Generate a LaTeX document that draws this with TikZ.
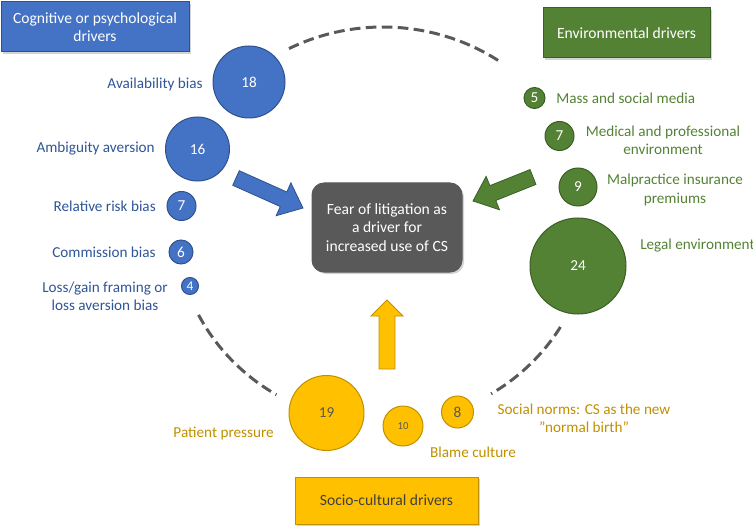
\documentclass[tikz,border=0pt]{standalone}
\usepackage{fontspec}
\setmainfont{Carlito}
\usetikzlibrary{calc,shadows}
\definecolor{cblue}{HTML}{4472C4}
\definecolor{cbluedk}{HTML}{2F528F}
\definecolor{tblue}{HTML}{2F5597}
\definecolor{cgreen}{HTML}{548235}
\definecolor{cgreendk}{HTML}{3B5E25}
\definecolor{tgreen}{HTML}{548235}
\definecolor{cyell}{HTML}{FFC000}
\definecolor{cyelldk}{HTML}{BF9000}
\definecolor{tyell}{HTML}{BF9000}
\definecolor{cgray}{HTML}{595959}
\definecolor{tdark}{HTML}{404040}
\newcommand\blockarr[6]{%
  \coordinate (ba-h) at ($(#3)!#6!(#2)$);
  \draw[#1] ($(#2)!#4!90:(#3)$) -- ($(ba-h)!#4!90:(#3)$) -- ($(ba-h)!#5!90:(#3)$) -- (#3)
    -- ($(ba-h)!#5!-90:(#3)$) -- ($(ba-h)!#4!-90:(#3)$) -- ($(#2)!#4!-90:(#3)$) -- cycle;
}
\tikzset{
  txt/.style={font=\fontsize{11.4}{13.8}\selectfont, inner sep=0pt},
  blab/.style={txt, text=tblue},
  glab/.style={txt, text=tgreen},
  ylab/.style={txt, text=tyell},
  bcirc/.style={circle, fill=cblue, draw=cbluedk, line width=0.75pt, text=white, inner sep=0pt, txt},
  gcirc/.style={circle, fill=cgreen, draw=cgreendk, line width=0.75pt, text=white, inner sep=0pt, txt},
  ycirc/.style={circle, fill=cyell, draw=cyelldk, line width=0.75pt, text=cgray, inner sep=0pt, txt},
  hbox/.style={rectangle, line width=0.75pt, align=center, txt, font=\fontsize{11.7}{14}\selectfont,
     drop shadow={shadow xshift=1.5pt, shadow yshift=-1.5pt, opacity=0.35}},
  dasharc/.style={draw=cgray, line width=2.25pt, dash pattern=on 8pt off 4pt},
  barrow/.style={fill=cblue, draw=cbluedk, line width=0.6pt},
  garrow/.style={fill=cgreen, draw=cgreendk, line width=0.6pt},
  yarrow/.style={fill=cyell, draw=cyelldk, line width=0.6pt},
}
\begin{document}
\begin{tikzpicture}[x=0.75pt,y=-0.75pt]
\useasboundingbox (0,0) rectangle (753,531);
% dashed ellipse arcs
\coordinate (ec) at (383,225);
\draw[dasharc] ($(ec)+(117:155.25pt and 148.5pt)$) arc[start angle=117, end angle=55, x radius=155.25pt, y radius=148.5pt];
\draw[dasharc] ($(ec)+(207:155.25pt and 148.5pt)$) arc[start angle=207, end angle=239, x radius=155.25pt, y radius=148.5pt];
\draw[dasharc] ($(ec)+(-31:155.25pt and 148.5pt)$) arc[start angle=-31, end angle=-58.5, x radius=155.25pt, y radius=148.5pt];

% header boxes
\node[hbox, fill=cblue, draw=cbluedk, text=white, minimum width=141pt, minimum height=37.5pt] (hcog) at (95,27) {Cognitive or psychological\\drivers};
\node[hbox, fill=cgreen, draw=cgreendk, text=white, minimum width=125.25pt, minimum height=37.5pt] (henv) at (626.5,33) {Environmental drivers};
\node[hbox, fill=cyell, draw=cyelldk, text=tdark, minimum width=137.25pt, minimum height=35.25pt] (hsoc) at (386.5,500.5) {Socio-cultural drivers};

% centre box
\node[hbox, fill=cgray, draw=cgray, text=white, rounded corners=9pt, minimum width=112.5pt, minimum height=66.75pt] (fear) at (387,227.5) {Fear of litigation as\\a driver for\\increased use of CS};

% block arrows
\coordinate (bt) at (236,178); \coordinate (bh) at (303,208);
\blockarr{barrow}{bt}{bh}{6pt}{13.5pt}{16pt}
\coordinate (gt) at (533,177); \coordinate (gh) at (473,201);
\blockarr{garrow}{gt}{gh}{6pt}{13.5pt}{16pt}
\coordinate (yt) at (387,369); \coordinate (yh) at (387,300);
\blockarr{yarrow}{yt}{yh}{6pt}{12pt}{12pt}

% cognitive circles
\node[bcirc, minimum size=54pt] (c18) at (249,82) {18};
\node[bcirc, minimum size=48pt] (c16) at (197.5,149) {16};
\node[bcirc, minimum size=21.75pt] (c7) at (181.5,206) {7};
\node[bcirc, minimum size=18pt] (c6) at (181,252) {6};
\node[bcirc, minimum size=12.75pt, font=\fontsize{10}{12}\selectfont] (c4) at (190,286) {4};
\node[blab, anchor=east] (l18) at (203,84) {Availability bias};
\node[blab, anchor=east] (l16) at (155,149) {Ambiguity aversion};
\node[blab, anchor=east] (l7) at (156,206) {Relative risk bias};
\node[blab, anchor=east] (l6) at (156,252) {Commission bias};
\node[blab, align=center] (l4) at (105,296) {Loss/gain framing or\\loss aversion bias};

% environmental circles
\node[gcirc, minimum size=15.75pt] (e5) at (534.5,98) {5};
\node[gcirc, minimum size=21.75pt] (e7) at (559.5,136) {7};
\node[gcirc, minimum size=28.5pt] (e9) at (578,187) {9};
\node[gcirc, minimum size=72pt] (e24) at (578,266) {24};
\node[glab, anchor=west] (m5) at (556,98) {Mass and social media};
\node[glab, align=center] (m7) at (663,140) {Medical and professional\\environment};
\node[glab, align=center] (m9) at (675,190) {Malpractice insurance\\premiums};
\node[glab, anchor=west] (m24) at (640,246) {Legal environment};

% socio-cultural circles
\node[ycirc, minimum size=56.25pt] (s19) at (326.5,413) {19};
\node[ycirc, minimum size=30pt, font=\fontsize{8}{10}\selectfont] (s10) at (403,426) {10};
\node[ycirc, minimum size=24pt] (s8) at (457.5,412) {8};
\node[ylab, anchor=east] (p19) at (274,433) {Patient pressure};
\node[ylab] (p10) at (473,452) {Blame culture};
\node[ylab, align=center] (p8) at (584,418) {Social norms: CS as the new\\"normal birth"};
\end{tikzpicture}
\end{document}
